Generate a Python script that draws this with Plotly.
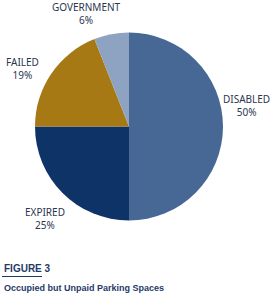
import plotly.graph_objects as go

categories = ["DISABLED", "EXPIRED", "FAILED", "GOVERNMENT"]
values = [50, 25, 19, 6]
colors = ["#476895", "#0e3366", "#a67914", "#8ea2c2"]
label_pos = [(246, 106), (45, 218), (22, 68), (86, 13)]  # label anchor pixels

W, H = 274, 297
fig = go.Figure(go.Pie(
    labels=categories, values=values, sort=False, direction="clockwise",
    rotation=0, marker=dict(colors=colors, line=dict(width=0)),
    textinfo="none", hoverinfo="label+percent", showlegend=False,
    domain=dict(x=[35 / W, 223 / W], y=[1 - 221 / H, 1 - 32 / H]),
))

font_lbl = dict(family="'Noto Sans', sans-serif", size=10, color="#2b3650")
anns = []
for c, v, (px, py) in zip(categories, values, label_pos):
    anns.append(dict(x=px / W, y=1 - py / H, xref="paper", yref="paper",
                     text=f"{c}<br>{v}%", showarrow=False, font=font_lbl,
                     align="center", xanchor="center", yanchor="middle"))
narrow = "'Liberation Sans Narrow', sans-serif"
anns.append(dict(x=2 / W, y=1 - 268 / H, xref="paper", yref="paper",
                 text="<b>FIGURE 3</b>", showarrow=False, xanchor="left", yanchor="middle",
                 font=dict(family=narrow, size=10, color="#1f3a68")))
anns.append(dict(x=2 / W, y=1 - 288 / H, xref="paper", yref="paper",
                 text="<b>Occupied but Unpaid Parking Spaces</b>", showarrow=False,
                 xanchor="left", yanchor="middle",
                 font=dict(family=narrow, size=9, color="#1f3a68")))

fig.update_layout(
    width=W, height=H, margin=dict(l=0, r=0, t=0, b=0),
    paper_bgcolor="white", plot_bgcolor="white", annotations=anns,
    shapes=[dict(type="line", xref="paper", yref="paper", x0=2 / W, x1=42 / W,
                 y0=1 - 276.5 / H, y1=1 - 276.5 / H, line=dict(color="#1f3a68", width=1))],
)
fig.write_html("out.html", config={"displayModeBar": False})
